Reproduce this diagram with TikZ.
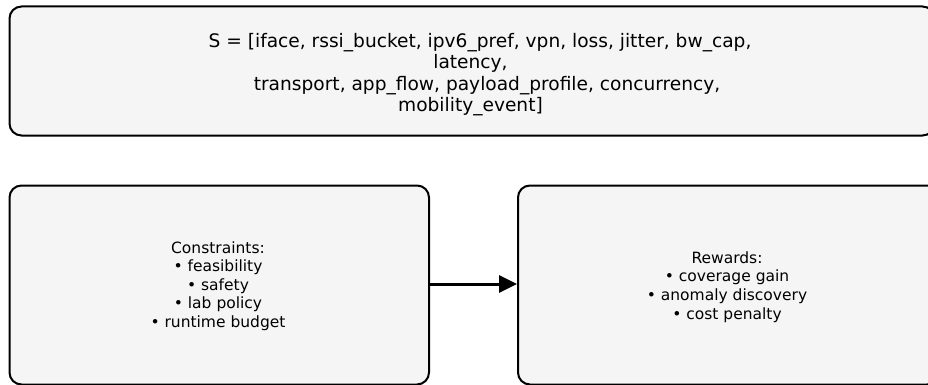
\documentclass[tikz,border=0pt]{standalone}
\usepackage{fontspec}
\setmainfont{DejaVu Sans}
\usetikzlibrary{arrows.meta}
\definecolor{boxfill}{RGB}{245,245,245}
\tikzset{
  panel/.style={draw=black, line width=2pt, fill=boxfill, rounded corners=12pt},
  toptext/.style={align=center, font=\fontsize{18.6}{21.4}\selectfont, inner sep=0pt},
  bottext/.style={align=center, font=\fontsize{15.5}{18.6}\selectfont, inner sep=0pt},
  flow/.style={line width=3pt, -{Triangle[length=18pt,width=17pt]}}
}
\begin{document}
\begin{tikzpicture}[x=1pt,y=-1pt]
\useasboundingbox (0,0) rectangle (928,385);
\begin{scope}
\clip (0,0) rectangle (928,385);
\node[panel, anchor=north west, minimum width=925pt, minimum height=129pt, inner sep=0pt] (state) at (8.5,5.5) {};
\node[panel, anchor=north west, minimum width=419.5pt, minimum height=199pt, inner sep=0pt] (cons) at (8.5,184.5) {};
\node[panel, anchor=north west, minimum width=421pt, minimum height=199pt, inner sep=0pt] (rew) at (517,184.5) {};
\end{scope}
\node[toptext] (statetxt) at (470.5,74.5) {\hspace*{19pt}S = [iface, rssi\_bucket, ipv6\_pref, vpn, loss, jitter, bw\_cap,\\latency,\\\hspace*{33pt}transport, app\_flow, payload\_profile, concurrency,\\mobility\_event]};
\node[bottext] (constxt) at (218,286) {Constraints:\\• feasibility\\• safety\\• lab policy\\• runtime budget};
\node[bottext] (rewtxt) at (727,287) {Rewards:\\• coverage gain\\• anomaly discovery\\• cost penalty};
\draw[flow] (cons.east |- 0,284) -- (rew.west |- 0,284);
\end{tikzpicture}
\end{document}
